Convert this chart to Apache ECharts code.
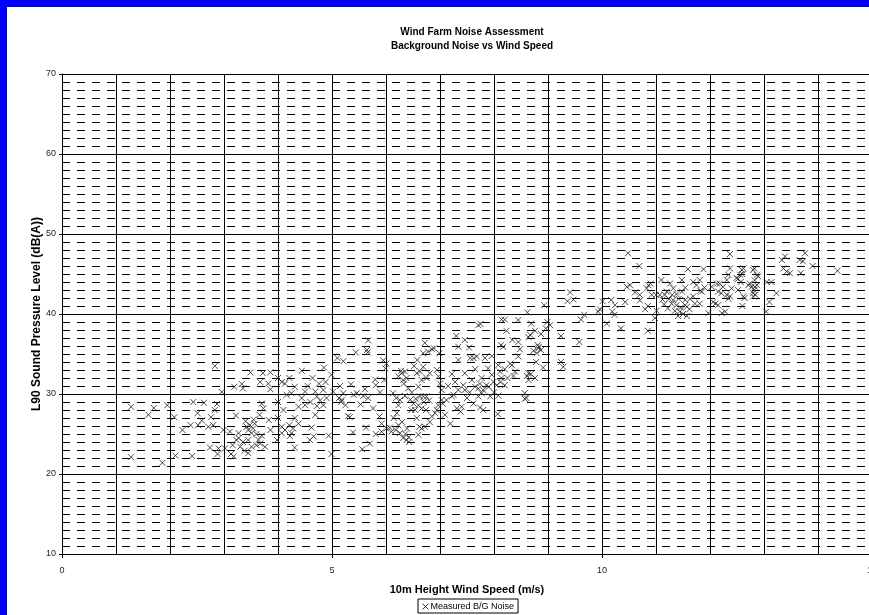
<!DOCTYPE html>
<html>
<head>
<meta charset="utf-8">
<script src="https://cdn.jsdelivr.net/npm/echarts@6/dist/echarts.min.js"></script>
<style>
html,body{margin:0;padding:0;background:#0000FF;width:869px;height:615px;overflow:hidden;position:relative;}
#c{position:absolute;left:7px;top:7px;width:900px;height:620px;background:#fff;}
</style>
</head>
<body>
<div id="c"></div>
<script>
const titleLines = ['Wind Farm Noise Assessment', 'Background Noise vs Wind Speed'];
const xAxisName = '10m Height Wind Speed (m/s)';
const yAxisName = 'L90 Sound Pressure Level (dB(A))';
const seriesName = 'Measured B/G Noise';

const windSpeed = [
1.28,1.60,1.70,1.95,1.28,1.86,
2.10,2.41,2.43,2.63,2.08,2.23,2.38,2.52,2.59,2.51,2.76,2.83,2.87,2.80,2.71,2.99,2.83,2.96,2.74,2.90,2.88,3.02,
3.49,3.72,3.86,3.67,3.82,3.86,4.00,4.07,4.21,4.13,3.19,3.33,3.35,3.22,3.70,3.73,3.66,3.83,3.42,3.48,3.54,3.45,3.57,3.51,3.27,3.11,3.23,3.16,3.27,3.45,3.64,3.67,3.51,3.76,3.18,3.13,3.45,3.60,3.86,4.07,3.98,4.00,4.07,4.21,4.13,4.22,4.16,4.25,3.40,3.55,3.60,3.35,3.30,3.70,3.38,4.00,4.10,
4.44,4.85,4.99,4.64,4.76,4.50,4.31,4.69,4.84,4.72,4.90,4.44,4.38,4.50,4.72,4.84,4.69,4.31,4.38,4.28,4.25,4.62,4.66,4.59,4.94,4.31,4.99,4.60,4.78,4.55,4.88,
5.67,5.44,5.65,5.66,5.10,5.21,5.15,5.35,5.21,5.18,5.46,5.61,5.58,5.67,5.53,5.76,5.80,5.81,5.97,5.89,5.30,5.33,5.63,5.39,5.56,5.70,5.81,5.88,5.95,6.01,5.99,5.92,5.92,5.13,5.17,5.02,5.40,5.25,
6.01,6.07,6.10,6.13,6.19,6.23,6.29,6.35,6.32,6.38,6.26,6.35,6.41,6.23,6.20,6.14,6.23,6.26,6.32,6.38,6.43,6.39,6.47,6.52,6.58,6.57,6.63,6.69,6.72,6.69,6.85,6.89,6.78,6.99,6.60,6.66,6.75,6.81,6.94,6.97,7.00,6.51,6.60,6.54,6.63,6.69,6.75,6.66,6.74,6.57,6.62,6.66,6.60,6.72,6.81,6.85,6.91,6.94,6.97,6.28,6.33,6.45,6.55,6.48,6.70,6.80,6.30,6.18,6.36,6.42,
7.03,7.03,7.05,7.12,7.19,7.09,7.22,7.30,7.46,7.34,7.54,7.34,7.22,7.46,7.56,7.62,7.65,7.59,7.43,7.46,7.34,7.25,7.40,7.31,7.62,7.65,7.71,7.75,7.68,7.83,7.96,7.89,8.08,8.20,8.11,8.39,7.96,7.77,7.74,7.86,7.99,8.14,8.05,8.20,8.12,7.80,7.93,8.08,7.71,7.77,7.74,7.80,8.07,7.71,7.90,8.00,8.25,8.30,8.33,7.15,7.28,7.50,7.55,7.38,
8.57,8.60,8.57,8.14,8.20,8.45,8.62,8.93,8.69,8.99,9.04,8.96,8.23,8.76,8.87,8.67,8.64,8.34,8.45,8.13,8.17,8.81,8.83,8.82,8.48,8.73,8.79,8.87,8.45,8.78,8.91,8.64,8.61,8.68,8.76,8.64,8.36,
9.41,9.36,9.47,9.67,9.61,9.24,9.58,9.24,9.28,10.01,10.17,10.24,10.43,9.96,9.93,10.19,10.23,10.09,10.35,
10.48,10.69,10.46,10.52,10.61,10.70,10.70,10.86,10.90,10.83,10.92,11.00,11.07,11.10,10.85,10.80,11.01,10.98,10.85,
11.26,11.48,11.54,11.32,11.20,11.16,11.30,11.38,11.48,11.32,11.42,11.54,11.24,11.29,11.38,11.54,11.57,11.44,11.41,11.57,11.63,11.69,11.75,11.81,11.85,11.81,11.72,11.97,11.59,11.88,11.69,11.82,11.90,11.12,11.15,11.22,11.35,11.46,11.50,11.62,
12.37,12.37,12.06,12.10,12.15,12.03,12.13,12.18,12.24,12.21,12.15,12.34,12.31,12.40,12.49,12.56,12.59,12.62,12.52,12.60,12.57,12.52,12.62,12.64,12.37,12.34,12.31,12.28,12.22,12.60,12.71,12.74,12.83,12.89,12.87,12.80,12.82,12.77,12.83,12.87,12.80,12.80,12.84,12.82,
13.05,13.14,13.23,13.10,13.04,13.33,13.39,13.66,13.72,13.76,13.36,13.42,13.48,13.68,13.90,14.36
];
const noiseL90 = [
28.4,27.4,28.25,28.6,22.1,21.4,
22.3,22.25,29.0,28.9,27.1,25.5,26.1,26.1,26.7,27.6,27.1,28.0,28.75,26.1,25.9,25.5,33.5,30.25,23.3,23.2,22.5,23.2,
32.7,32.6,32.7,31.5,31.3,30.6,32.0,31.5,32.0,31.3,30.9,31.25,30.7,27.3,28.8,28.2,27.4,26.75,25.9,26.1,25.7,25.5,26.3,25.1,25.1,25.3,24.25,23.6,24.5,24.25,24.25,23.8,23.4,23.4,22.2,22.5,22.6,23.6,25.5,25.1,24.25,29.0,25.9,26.1,25.5,24.75,29.9,30.1,26.6,26.8,25.0,24.0,23.4,24.8,22.9,27.0,28.0,
32.9,33.3,32.4,32.0,31.3,30.3,30.9,30.3,30.5,29.7,29.5,29.5,28.4,28.6,28.5,28.6,27.4,27.0,26.3,25.7,25.1,25.8,24.7,24.25,24.8,23.3,22.5,29.0,29.2,31.0,31.5,
36.7,35.2,35.5,35.2,34.5,34.1,31.0,31.2,30.1,29.25,30.1,30.6,29.75,29.5,28.7,28.2,31.8,31.1,31.75,30.2,27.25,27.1,25.8,25.2,23.1,23.8,25.0,27.2,34.2,33.8,33.2,26.3,25.3,29.5,29.0,30.3,29.9,28.6,
25.7,25.8,25.3,30.1,29.5,32.2,32.6,32.8,31.75,32.0,29.25,29.75,30.7,28.6,27.6,27.0,26.1,25.1,24.5,24.25,24.0,25.7,28.0,33.5,34.25,32.6,32.8,33.4,36.4,35.1,35.6,35.7,35.3,35.1,30.9,31.75,32.0,32.6,33.0,32.2,31.3,28.8,28.6,28.0,29.7,29.7,29.7,28.2,28.0,27.0,25.9,25.7,24.9,25.9,26.5,27.2,27.6,28.0,28.6,32.9,31.3,29.3,29.4,30.2,29.0,29.2,26.5,25.5,25.0,24.6,
29.25,30.5,28.8,29.25,26.3,27.4,29.7,37.25,36.75,35.9,35.8,34.25,32.5,32.6,34.5,34.5,33.1,31.75,31.1,30.5,30.5,29.9,28.4,28.2,28.8,30.9,38.6,38.75,34.7,34.5,34.75,33.2,33.6,33.1,32.8,32.8,32.4,32.0,31.3,31.1,31.5,32.0,31.1,31.1,31.5,30.5,29.7,29.8,29.7,30.1,28.3,28.0,27.5,30.7,30.9,30.2,32.0,33.8,33.6,31.0,31.5,29.5,30.2,27.8,
30.1,29.5,29.4,39.3,39.3,39.25,40.2,41.1,38.8,39.0,38.6,38.2,37.9,37.9,37.5,37.4,37.1,36.75,36.5,36.1,35.9,36.1,35.9,35.7,35.6,35.4,35.1,35.5,34.7,34.0,33.3,32.6,32.25,32.5,32.0,31.75,32.25,
42.7,41.6,41.8,39.9,39.3,37.25,36.5,34.0,33.4,41.6,41.75,41.1,41.5,40.6,40.3,40.3,39.9,38.8,38.2,
47.6,46.0,43.4,43.6,42.7,42.4,41.7,43.6,43.8,43.2,42.4,42.4,42.4,44.25,41.0,40.6,40.4,39.5,37.9,
43.8,44.25,43.3,43.2,42.8,42.4,42.4,42.5,42.8,41.75,41.9,41.75,41.9,41.3,41.1,41.1,40.9,40.3,39.75,39.75,41.9,42.2,43.6,44.25,42.8,41.3,41.3,40.1,45.6,45.6,44.0,42.9,43.3,41.8,41.2,40.7,40.4,40.8,40.0,40.6,
47.5,45.7,41.5,41.3,41.1,43.4,43.8,43.8,43.4,42.6,42.8,44.9,44.25,43.2,44.5,44.9,45.5,45.7,44.4,45.0,44.0,43.0,42.2,42.0,42.2,41.9,42.4,40.3,40.1,41.0,43.6,43.8,44.2,44.7,44.9,45.5,45.7,43.4,43.4,43.6,42.6,42.2,42.4,43.0,
44.0,44.0,42.6,41.5,40.3,46.75,47.2,46.75,46.6,47.6,45.7,45.3,45.1,45.1,46.0,45.4
];

const points = windSpeed.map((x, i) => [x, noiseL90[i]]);
const FONT = 'Liberation Sans, Arial, sans-serif';
const CROSS = 'path://M0,0L10,10M10,0L0,10';

const chart = echarts.init(document.getElementById('c'), null, {renderer: 'canvas'});
chart.setOption({
  backgroundColor: '#ffffff',
  animation: false,
  title: {
    text: titleLines.join('\n'),
    left: 460, top: 13, textAlign: 'center',
    textStyle: {fontFamily: FONT, fontSize: 10, fontWeight: 'bold', color: '#000', lineHeight: 14}
  },
  grid: {left: 55, top: 67, width: 810, height: 480, containLabel: false, outerBoundsMode: 'none'},
  xAxis: {
    type: 'value', min: 0, max: 15, interval: 5,
    name: xAxisName, nameLocation: 'middle', nameGap: 30, nameMoveOverlap: false,
    nameTextStyle: {fontFamily: FONT, fontSize: 11, fontWeight: 'bold', color: '#000'},
    axisLine: {lineStyle: {color: '#000', width: 1}},
    axisTick: {show: true, length: 4, lineStyle: {color: '#000'}},
    axisLabel: {fontFamily: FONT, fontSize: 9, color: '#222', margin: 12},
    splitLine: {show: true, lineStyle: {color: '#000', width: 1}},
    minorTick: {show: false, splitNumber: 5},
    minorSplitLine: {show: true, lineStyle: {color: '#000', width: 1}}
  },
  yAxis: {
    type: 'value', min: 10, max: 70, interval: 10,
    name: yAxisName, nameLocation: 'middle', nameGap: 19, nameRotate: 90, nameMoveOverlap: false,
    nameTextStyle: {fontFamily: FONT, fontSize: 12, fontWeight: 'bold', color: '#000'},
    axisLine: {show: true, lineStyle: {color: '#000', width: 1}},
    axisTick: {show: true, length: 3, lineStyle: {color: '#000'}},
    axisLabel: {fontFamily: FONT, fontSize: 9, color: '#222', margin: 6},
    splitLine: {show: true, lineStyle: {color: '#000', width: 1}},
    minorTick: {show: false, splitNumber: 10},
    minorSplitLine: {show: true, lineStyle: {color: '#000', width: 1, type: [8, 7]}}
  },
  legend: {
    data: [{name: seriesName, icon: CROSS}],
    left: 411, top: 592,
    orient: 'horizontal',
    padding: [3, 4, 2, 4],
    itemWidth: 6, itemHeight: 6,
    borderColor: '#000', borderWidth: 1, borderRadius: 0,
    backgroundColor: '#fff',
    itemStyle: {color: 'rgba(0,0,0,0)', borderColor: '#000', borderWidth: 1},
    textStyle: {fontFamily: FONT, fontSize: 9, color: '#000', padding: [0, 0, 0, -3]}
  },
  series: [{
    name: seriesName,
    type: 'scatter',
    data: points,
    symbol: CROSS,
    symbolSize: 6,
    itemStyle: {color: 'rgba(0,0,0,0)', borderColor: '#222', borderWidth: 1},
    emphasis: {disabled: true},
    clip: true
  }]
});
</script>
</body>
</html>
